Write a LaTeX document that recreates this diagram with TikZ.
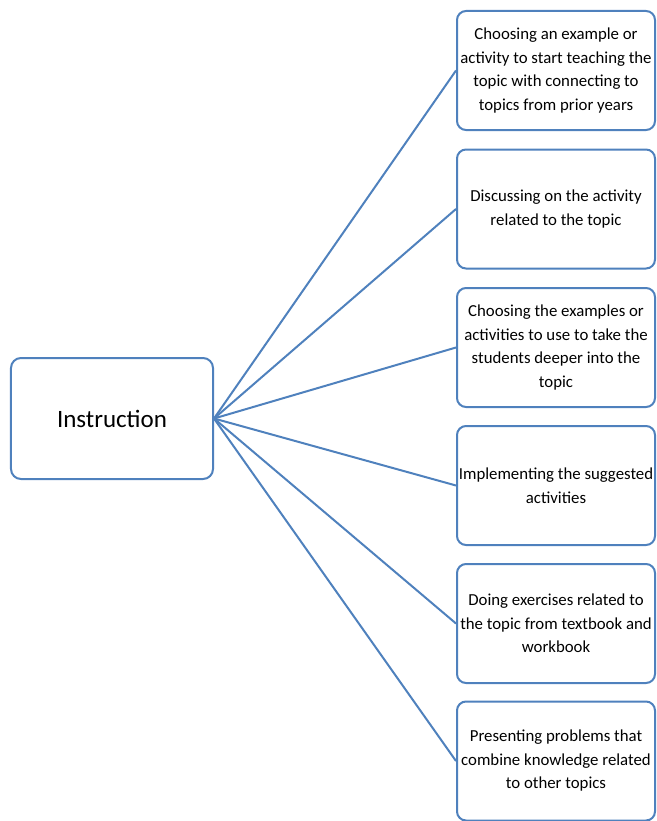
\documentclass[tikz,border=0pt]{standalone}
\usepackage{fontspec}
\setmainfont{Carlito}
\definecolor{boxblue}{RGB}{79,129,189}

\begin{document}
\begin{tikzpicture}[x=1bp,y=-1bp,
    stepbox/.style={draw=boxblue,line width=2bp,rounded corners=9bp,fill=white,
        minimum width=198bp,minimum height=119bp,align=center,inner sep=1bp,
        font=\fontsize{16.8bp}{23.5bp}\selectfont},
    mainbox/.style={draw=boxblue,line width=2bp,rounded corners=10bp,fill=white,
        minimum width=202bp,minimum height=121bp,
        font=\fontsize{25bp}{28bp}\selectfont},
    link/.style={draw=boxblue,line width=2bp}]
               \useasboundingbox (0,0) rectangle (657,821);
               % left box
               \node [mainbox] (instr) at (112,418.5) {Instruction};
               % right boxes
               \node [stepbox] (choose) at (556,70.5) {Choosing an example or\\activity to start teaching the\\topic with connecting to\\topics from prior years};
               \node [stepbox] (discuss) at (556,209) {Discussing on the activity\\related to the topic};
               \node [stepbox] (deeper) at (556,347.5) {Choosing the examples or\\activities to use to take the\\students deeper into the\\topic};
               \node [stepbox] (implement) at (556,485.5) {Implementing the suggested\\activities};
               \node [stepbox] (exercise) at (556,623.5) {Doing exercises related to\\the topic from textbook and\\workbook};
               \node [stepbox] (problems) at (556,761) {Presenting problems that\\combine knowledge related\\to other topics};
               % lines out of the left box
               \draw [link] (instr.east) -- (choose.west);
               \draw [link] (instr.east) -- (discuss.west);
               \draw [link] (instr.east) -- (deeper.west);
               \draw [link] (instr.east) -- (implement.west);
               \draw [link] (instr.east) -- (exercise.west);
               \draw [link] (instr.east) -- (problems.west);
\end{tikzpicture}
\end{document}
